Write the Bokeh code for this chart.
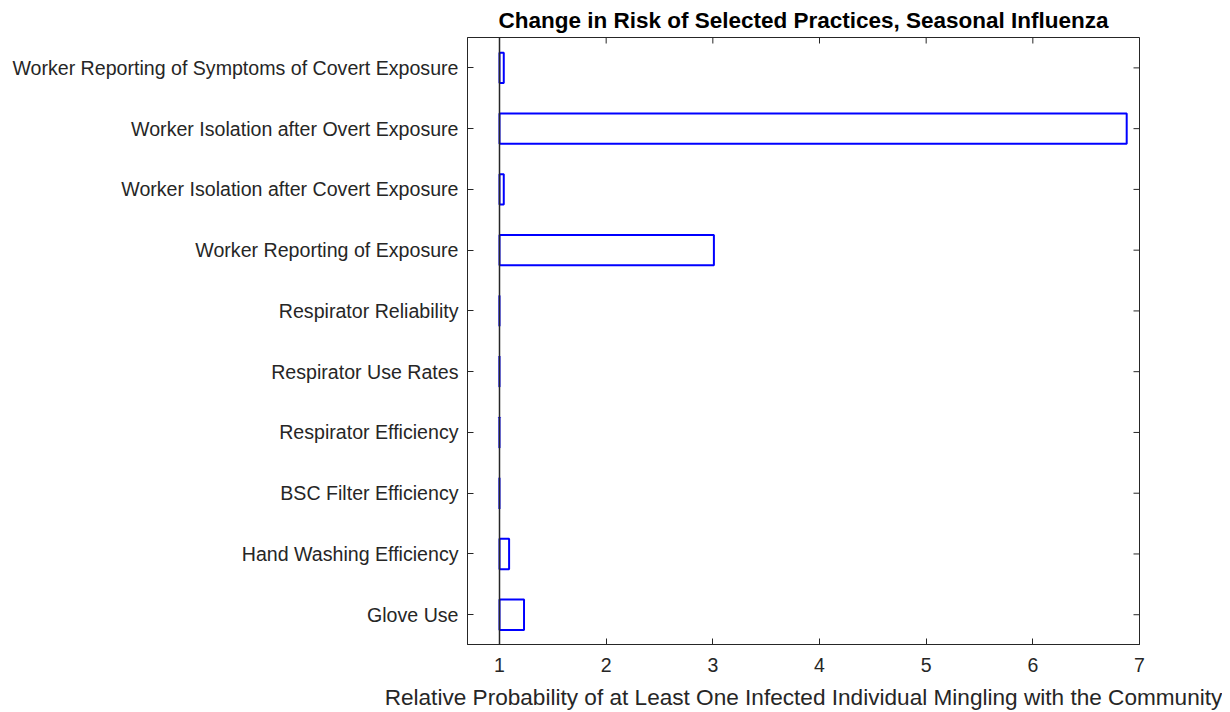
import numpy as np
from bokeh.plotting import figure
from bokeh.models import ColumnDataSource, FixedTicker, Span, Range1d
from bokeh.embed import file_html
from bokeh.resources import INLINE

# ---- data ----
practices = [
    "Glove Use",
    "Hand Washing Efficiency",
    "BSC Filter Efficiency",
    "Respirator Efficiency",
    "Respirator Use Rates",
    "Respirator Reliability",
    "Worker Reporting of Exposure",
    "Worker Isolation after Covert Exposure",
    "Worker Isolation after Overt Exposure",
    "Worker Reporting of Symptoms of Covert Exposure",
]
relative_prob = [1.23, 1.09, 0.999, 0.999, 0.999, 0.999, 3.01, 1.04, 6.88, 1.04]
baseline = 1.0
x_ticks = [1, 2, 3, 4, 5, 6, 7]

title_text = "Change in Risk of Selected Practices, Seasonal Influenza"
x_label = "Relative Probability of at Least One Infected Individual Mingling with the Community"

# ---- style / layout ----
FONT = "Liberation Sans"
AX = "#262626"
X_LO, X_HI = 0.7, 7.0
Y_LO, Y_HI = 0.51, 10.5

pos = list(range(1, len(practices) + 1))
src = ColumnDataSource(dict(y=pos, left=[baseline] * len(pos), right=relative_prob, name=practices))

p = figure(width=1222, height=712, output_backend="svg", toolbar_location=None,
           x_range=Range1d(X_LO, X_HI), y_range=Range1d(Y_LO, Y_HI),
           min_border_left=467, min_border_right=83, min_border_top=36, min_border_bottom=68)

p.hbar(y="y", left="left", right="right", height=0.5, source=src,
       fill_color="white", line_color="#0000ff", line_width=2)

p.add_layout(Span(location=baseline, dimension="height", line_color=AX, line_width=1.5))

# mirrored inward ticks on top and right edges (clipped half-dashes)
p.scatter(x=x_ticks, y=[Y_HI] * len(x_ticks), marker="dash", angle=np.pi / 2, size=12,
          line_color=AX, line_width=1)
p.scatter(x=[X_HI] * len(pos), y=pos, marker="dash", size=12, line_color=AX, line_width=1)

p.title.text = title_text
p.title.text_font = FONT
p.title.text_font_size = "22.5px"
p.title.text_font_style = "bold"
p.title.text_color = "black"
p.title.align = "center"
p.title.standoff = 10

p.xgrid.visible = False
p.ygrid.visible = False
p.outline_line_color = AX
p.outline_line_width = 1
p.outline_line_alpha = 1

# bottom axis
xa = p.xaxis[0]
xa.ticker = FixedTicker(ticks=x_ticks)
xa.axis_label = x_label
xa.axis_label_text_font = FONT
xa.axis_label_text_font_size = "22.6px"
xa.axis_label_text_font_style = "normal"
xa.axis_label_text_color = AX
xa.axis_label_standoff = 10
xa.major_label_text_font = FONT
xa.major_label_text_font_size = "19.5px"
xa.major_label_text_color = AX
xa.major_label_standoff = 13
xa.major_tick_in = 6
xa.major_tick_out = 0
xa.minor_tick_in = 0
xa.minor_tick_out = 0
xa.axis_line_color = AX
xa.major_tick_line_color = AX

# left axis
ya = p.yaxis[0]
ya.ticker = FixedTicker(ticks=pos)
ya.major_label_overrides = {i: n for i, n in zip(pos, practices)}
ya.major_label_text_font = FONT
ya.major_label_text_font_size = "19.6px"
ya.major_label_text_color = AX
ya.major_label_standoff = 9
ya.major_tick_in = 6
ya.major_tick_out = 0
ya.minor_tick_in = 0
ya.minor_tick_out = 0
ya.axis_line_color = AX
ya.major_tick_line_color = AX

open("out.html", "w").write(file_html(p, INLINE))
